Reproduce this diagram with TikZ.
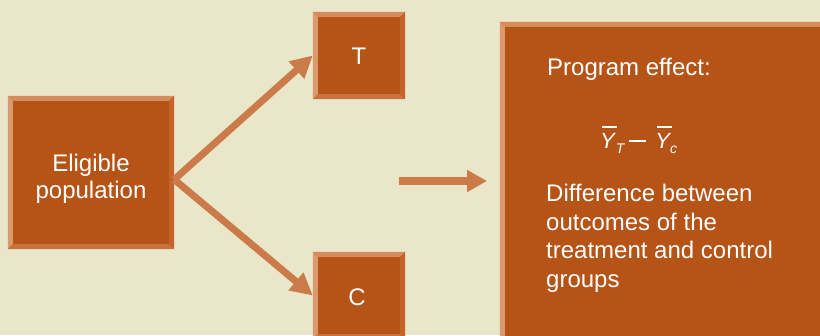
\documentclass[tikz,border=0pt]{standalone}
\usepackage{fontspec}
\setmainfont{Liberation Sans}
\usetikzlibrary{arrows.meta}
\definecolor{bg}{HTML}{EAE6C9}
\definecolor{boxfill}{HTML}{B55416}
\definecolor{bevT}{HTML}{D68B5B}
\definecolor{bevL}{HTML}{DA9A6E}
\definecolor{bevR}{HTML}{C4642A}
\definecolor{bevB}{HTML}{C9723E}
\definecolor{arrowc}{HTML}{CB7B4A}
\tikzset{
  bevbox/.style={fill=boxfill, inner sep=0pt, draw=none, text=white,
    font=\fontsize{24}{27}\selectfont},
  txt/.style={text=white, inner sep=0pt, font=\fontsize{24}{28.5}\selectfont},
  diag/.style={draw=arrowc, line width=7pt, -{Triangle[length=22pt,width=22pt]}, shorten <=0pt},
  fat/.style={draw=arrowc, line width=8pt, -{Triangle[length=20pt,width=21pt]}}
}
\newcommand\bevelfor[1]{%
  \fill[bevT] (#1.north west) -- (#1.north east) -- ([shift={(-5pt,-5pt)}]#1.north east) -- ([shift={(5pt,-5pt)}]#1.north west) -- cycle;
  \fill[bevL] (#1.north west) -- ([shift={(5pt,-5pt)}]#1.north west) -- ([shift={(5pt,5pt)}]#1.south west) -- (#1.south west) -- cycle;
  \fill[bevR] (#1.north east) -- (#1.south east) -- ([shift={(-5pt,5pt)}]#1.south east) -- ([shift={(-5pt,-5pt)}]#1.north east) -- cycle;
  \fill[bevB] (#1.south west) -- (#1.south east) -- ([shift={(-5pt,5pt)}]#1.south east) -- ([shift={(5pt,5pt)}]#1.south west) -- cycle;
}
\newcommand\myybar{\makebox[0pt][l]{\kern1.5pt\raisebox{20pt}{\rule{15pt}{1.8pt}}}{\itshape Y}}
\newcommand\mysub[1]{\raisebox{-5pt}{\fontsize{14}{14}\selectfont\itshape #1}}
\begin{document}
\begin{tikzpicture}[x=1pt,y=-1pt]
\useasboundingbox (0,0) rectangle (820,335);
\clip (0,0) rectangle (820,335);
\fill[bg] (0,0) rectangle (820,335);
% boxes
\node[bevbox, minimum width=166pt, minimum height=153pt] (elig) at (91,172.5) {};
\node[bevbox, minimum width=92pt, minimum height=87pt] (T) at (359,55.5) {};
\node[bevbox, minimum width=92pt, minimum height=87pt] (C) at (359,295.5) {};
\node[bevbox, minimum width=330pt, minimum height=323pt] (eff) at (665,183.5) {};
\bevelfor{elig}
\bevelfor{T}
\bevelfor{C}
\bevelfor{eff}
% labels
\node[txt, align=center, anchor=base, font=\fontsize{24}{27}\selectfont] (eligtxt) at (91,198) {Eligible\\population};
\node[txt, anchor=base] (Ttxt) at (359,64) {T};
\node[txt, anchor=base] (Ctxt) at (357,305) {C};
\node[txt, anchor=base west] (pe) at (547,75) {Program effect:};
\node[txt, anchor=base west, font=\fontsize{22}{22}\selectfont] (math) at (600,148)
  {\myybar\kern1pt\mysub{T}\kern5pt\raisebox{6pt}{\rule{17pt}{2pt}}\kern9pt\myybar\kern0pt\mysub{c}};
\node[txt, align=left, anchor=base west] (diff) at (546,287)
  {Difference between\\outcomes of the\\treatment and control\\groups};
% arrows
\coordinate (src) at ([yshift=-7pt]elig.east);
\draw[diag] (src) -- (T.west);
\draw[diag] (src) -- (C.west);
\coordinate (h1) at (399,181);
\coordinate (h2) at (487,181);
\draw[fat] (h1) -- (h2);
\end{tikzpicture}
\end{document}
